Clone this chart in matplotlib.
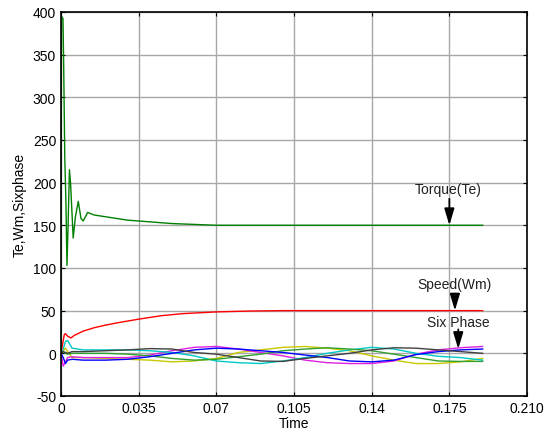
import matplotlib
matplotlib.use('Agg')
import matplotlib.pyplot as plt

plt.rcParams['font.family'] = ['Liberation Sans', 'DejaVu Sans']
plt.rcParams['axes.unicode_minus'] = False

# Torque (Te)
t_te = [0, 0.0002, 0.0009, 0.0012, 0.0017, 0.0022, 0.0027, 0.0032, 0.0038, 0.0043,
        0.0055, 0.0065, 0.0078, 0.009, 0.01, 0.012, 0.015, 0.02, 0.03, 0.04,
        0.05, 0.06, 0.07, 0.1, 0.13, 0.19]
te = [0, 395, 392, 340, 230, 180, 103, 150, 215, 200,
      135, 160, 178, 158, 155, 165, 162, 160, 156, 154,
      152, 151, 150, 150, 150, 150]

# Speed (Wm)
t_wm = [0, 0.0008, 0.0015, 0.002, 0.003, 0.0045, 0.006, 0.01, 0.015, 0.02,
        0.026, 0.035, 0.045, 0.055, 0.07, 0.085, 0.1, 0.19]
wm = [0, 12, 22, 23, 20, 18, 21, 26, 30, 33,
      36, 40, 44, 46.5, 48.5, 49.5, 50, 50]

# six phase currents
t_ph = [0, 0.001, 0.002, 0.003, 0.005, 0.01, 0.02, 0.03, 0.04, 0.05, 0.06, 0.07,
        0.08, 0.09, 0.10, 0.11, 0.12, 0.13, 0.14, 0.15, 0.16, 0.17, 0.18, 0.19]
ph_yellow = [0, 3, 6, 2, -5, -5, -6, -7, -8, -10, -9, -6,
             1, 4, 7, 8, 6, 3, -3, -8, -12, -12, -10, -6]
ph_magenta = [0, -15, -10, -5, -4, -5, -5, -5, -2, 3, 7, 8,
              5, 1, -3, -8, -11, -12, -12, -9, -1, 4, 6.5, 8]
ph_cyan = [0, 5, 14, 15, 6, 4, 4, 4, 3, 1, -3, -9,
           -11, -12, -9, -5, 0, 4, 7, 5, 0, -3.5, -5, -8]
ph_green = [0, 2, 0, -1, 0, 0, 0, -1, -3, -6, -8, -7,
            -4, -1, 3, 5, 6.5, 5, 3, -1, -5, -9, -9.5, -9.5]
ph_blue = [0, -5, -12, -8, -7, -8, -8, -7, -4, 0, 4, 6,
           5, 3, 1, -2, -5, -9, -10, -8, -1.5, 2, 4, 5]
ph_gray = [0, 2, 1, 0, 2, 2, 3, 4, 5.5, 5, 1, -1,
           -5, -9, -9.5, -6, -3, 0, 4, 6.5, 6, 4, 2, 0]

phases = [(ph_yellow, '#c8c800'), (ph_magenta, '#e020e0'), (ph_cyan, '#00c8c8'),
          (ph_green, '#30a030'), (ph_blue, '#0000ff'), (ph_gray, '#404040')]

xticks = [0, 0.035, 0.07, 0.105, 0.14, 0.175, 0.21]
xticklabels = ['0', '0.035', '0.07', '0.105', '0.14', '0.175', '0.210']
yticks = [-50, 0, 50, 100, 150, 200, 250, 300, 350, 400]

fig = plt.figure(figsize=(5.47, 4.39), dpi=100)
ax = fig.add_axes([0.1115, 0.0957, 0.852, 0.875])

for vals, c in phases:
    ax.plot(t_ph, vals, color=c, lw=1)
ax.plot(t_wm, wm, color='#ff0000', lw=1)
ax.plot(t_te, te, color='#008000', lw=1)

ax.set_xlim(0, 0.21)
ax.set_ylim(-50, 400)
ax.set_xticks(xticks)
ax.set_xticklabels(xticklabels)
ax.set_yticks(yticks)
ax.tick_params(direction='in', top=True, right=True, labelsize=10, length=3)
ax.grid(True, color='#a8a8a8', lw=1)
ax.set_axisbelow(True)
for s in ax.spines.values():
    s.set_linewidth(1.2)

ax.set_xlabel('Time', fontsize=10, labelpad=1)
ax.set_ylabel('Te,Wm,Sixphase', fontsize=10, labelpad=4)

arrow = dict(arrowstyle='-|>,head_width=0.3,head_length=1.0', color='k', lw=1.3,
             shrinkA=0, shrinkB=0)
notes = [('Torque(Te)', 0.1743, 192, 0.175, 181, 150),
         ('Speed(Wm)', 0.1775, 81, 0.1775, 70, 50),
         ('Six Phase', 0.179, 37, 0.179, 28, 5)]
for label, tx, ty, ax_x, y0, y1 in notes:
    ax.text(tx, ty, label, ha='center', va='center', fontsize=10, color='#202020')
    ax.annotate('', xy=(ax_x, y1), xytext=(ax_x, y0), arrowprops=arrow)

fig.savefig('out.png', dpi=100)
